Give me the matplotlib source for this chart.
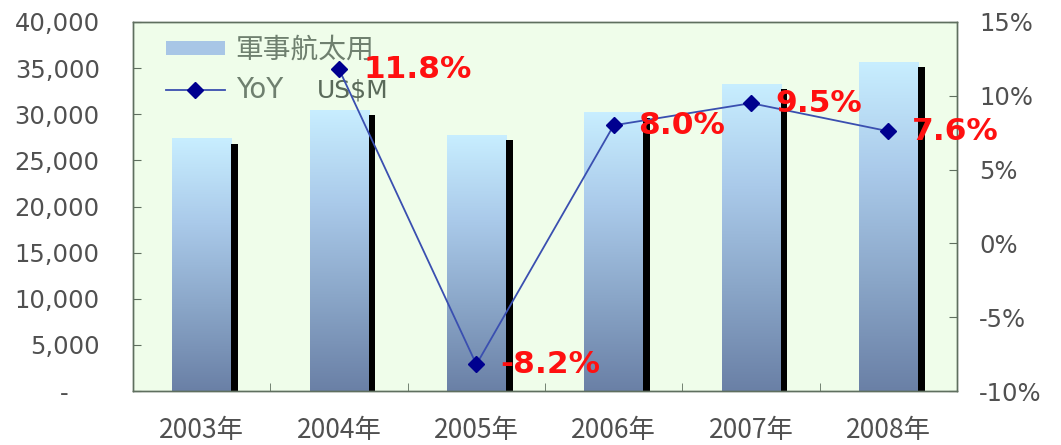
import matplotlib

matplotlib.use("Agg")
import matplotlib.pyplot as plt
import matplotlib.ticker as ticker
import numpy as np
from matplotlib.colors import LinearSegmentedColormap
from matplotlib.lines import Line2D
from matplotlib.patches import Patch

# defence & aerospace spending, US$M, and year-over-year growth
YEARS = ["2003年", "2004年", "2005年", "2006年", "2007年", "2008年"]
SPEND = [27400, 30500, 27800, 30200, 33300, 35700]
YOY = [np.nan, 11.8, -8.2, 8.0, 9.5, 7.6]
YOY_LABELS = ["", "11.8%", "-8.2%", "8.0%", "9.5%", "7.6%"]

PLOT_BG = "#effdea"
FRAME = "#5f6f5f"
TICK_TEXT = "#505050"
LEGEND_TEXT = "#6f806f"
LINE = "#3a4fb0"
MARKER = "#00008f"

BAR_W = 0.43
SHADOW_W = 0.05
SHADOW_DROP = 600  # shadow sits a little below the bar top

grad = LinearSegmentedColormap.from_list(
    "bar", ["#6a80a6", "#8aa6c8", "#aacaea", "#c8eeff"]
)

fig = plt.figure(figsize=(10.61, 4.45), dpi=100)
fig.patch.set_facecolor("white")
ax = fig.add_axes([0.1254, 0.1213, 0.7766, 0.8293])
ax.set_facecolor(PLOT_BG)
ax2 = ax.twinx()

x = np.arange(len(YEARS))

# gradient-filled bars with a thin black shadow on the right
bars = ax.bar(x, SPEND, width=BAR_W, color="none", edgecolor="none", zorder=2)
img = np.linspace(0, 1, 256).reshape(-1, 1)
for b in bars:
    x0, w, h = b.get_x(), b.get_width(), b.get_height()
    im = ax.imshow(img, cmap=grad, origin="lower", aspect="auto",
                   extent=[x0, x0 + w, 0, h], zorder=2)
    im.set_clip_path(b)
ax.bar(x + BAR_W / 2 + SHADOW_W / 2, np.array(SPEND) - SHADOW_DROP,
       width=SHADOW_W, color="black", zorder=2)

ax.set_xlim(-0.5, len(YEARS) - 0.5)
ax.set_ylim(0, 40000)
ax.set_yticks(np.arange(0, 40001, 5000))
# accounting style: zero shown as a dash set in from the right
ax.yaxis.set_major_formatter(
    ticker.FuncFormatter(lambda v, _: "-    " if v == 0 else f"{int(v):,}")
)
ax.set_xticks(x)
ax.set_xticklabels(YEARS, family=["Liberation Sans Narrow", "Noto Sans CJK TC"],
                   fontsize=19, color=TICK_TEXT)
ax.set_xticks(x[:-1] + 0.5, minor=True)
ax.tick_params(axis="x", which="major", length=0, pad=19)
ax.tick_params(axis="x", which="minor", direction="in", length=6, color=FRAME)
ax.tick_params(axis="y", direction="in", length=6, color=FRAME,
               labelsize=17.5, labelcolor=TICK_TEXT, pad=24)

# YoY growth line on the right axis
ax2.plot(x, YOY, color=LINE, linewidth=1.3, marker="D", markersize=8,
         markerfacecolor=MARKER, markeredgecolor=MARKER, zorder=4)
for xi, v, lab in zip(x, YOY, YOY_LABELS):
    if not lab:
        continue
    ax2.annotate(lab, xy=(xi, v), xytext=(24, 0), textcoords="offset pixels",
                 ha="left", va="center", color="#ff1010", fontsize=22.5,
                 fontweight="bold", zorder=5)
ax2.set_ylim(-10, 15)
ax2.set_yticks(np.arange(-10, 16, 5))
ax2.yaxis.set_major_formatter(ticker.FuncFormatter(lambda v, _: f"{int(v)}%"))
ax2.tick_params(axis="y", direction="in", length=6, color=FRAME,
                labelsize=17.5, labelcolor=TICK_TEXT, pad=16)

for a in (ax, ax2):
    for spine in a.spines.values():
        spine.set_color(FRAME)
        spine.set_linewidth(1.0)

handles = [
    Patch(facecolor="#a8c6e6", edgecolor="none"),
    Line2D([], [], color=LINE, linewidth=1.3, marker="D", markersize=8,
           markerfacecolor=MARKER, markeredgecolor=MARKER),
]
leg = ax.legend(handles, ["軍事航太用", "YoY"], loc="upper left",
                bbox_to_anchor=(0.01, 1.03), frameon=False, handlelength=2.1,
                handleheight=0.4, labelspacing=0.45, handletextpad=0.4,
                prop={"family": ["DejaVu Sans", "Noto Sans CJK TC"], "size": 20})
for t in leg.get_texts():
    t.set_color(LEGEND_TEXT)
leg.set_zorder(6)

ax.text(0.223, 0.815, "US$M", transform=ax.transAxes, ha="left", va="center",
        fontsize=18, color="#5a6a5a", zorder=6)

ax.set_zorder(ax2.get_zorder() - 1)
ax.patch.set_visible(True)
ax2.patch.set_visible(False)

fig.savefig("out.png", dpi=100, facecolor="white")
